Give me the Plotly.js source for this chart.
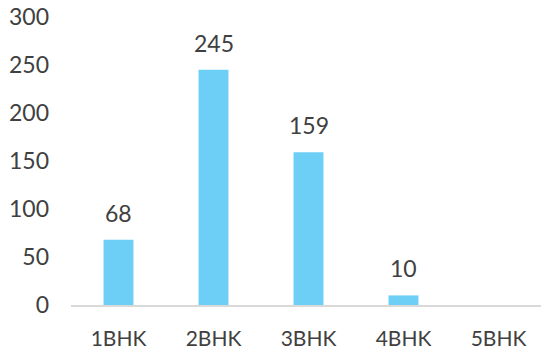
<!DOCTYPE html>
<html><head><meta charset="utf-8">
<script src="https://cdn.plot.ly/plotly-3.0.1.min.js"></script>
<style>html,body{margin:0;padding:0;overflow:hidden;background:#fff}#c{width:546px;height:351px}</style>
</head><body><div id="c"></div>
<script>
const categories = ["1BHK","2BHK","3BHK","4BHK","5BHK"];
const values = [68,245,159,10,null];
const yTicks = [0,50,100,150,200,250,300];

const font = {family:"Lato, 'Noto Sans', sans-serif", size:21, color:"#404040"};
const numFont = {family:"Lato, 'Noto Sans', sans-serif", size:23, color:"#404040"};
const annotations = categories.map((c,i)=> values[i]==null ? null : ({
  x:c, y:values[i], text:String(values[i]), showarrow:false,
  yanchor:"bottom", yshift:11, font:numFont
})).filter(a=>a);

Plotly.newPlot("c",[{
  type:"bar", x:categories, y:values,
  marker:{color:"#6dcff6"}, hoverinfo:"none"
}],{
  width:546, height:351,
  margin:{l:71,r:0,t:17,b:46},
  paper_bgcolor:"#fff", plot_bgcolor:"#fff",
  bargap:0.685,
  font:font,
  showlegend:false,
  xaxis:{type:"category", showline:true, linecolor:"#d9d9d9", linewidth:2,
    showgrid:false, zeroline:false, ticks:"", ticklabelstandoff:14, tickfont:font},
  yaxis:{range:[0,300], tickvals:yTicks, showgrid:false, zeroline:false, showline:false,
    ticks:"", ticklabelstandoff:21, tickfont:numFont},
  annotations:annotations
},{staticPlot:true});
</script></body></html>
